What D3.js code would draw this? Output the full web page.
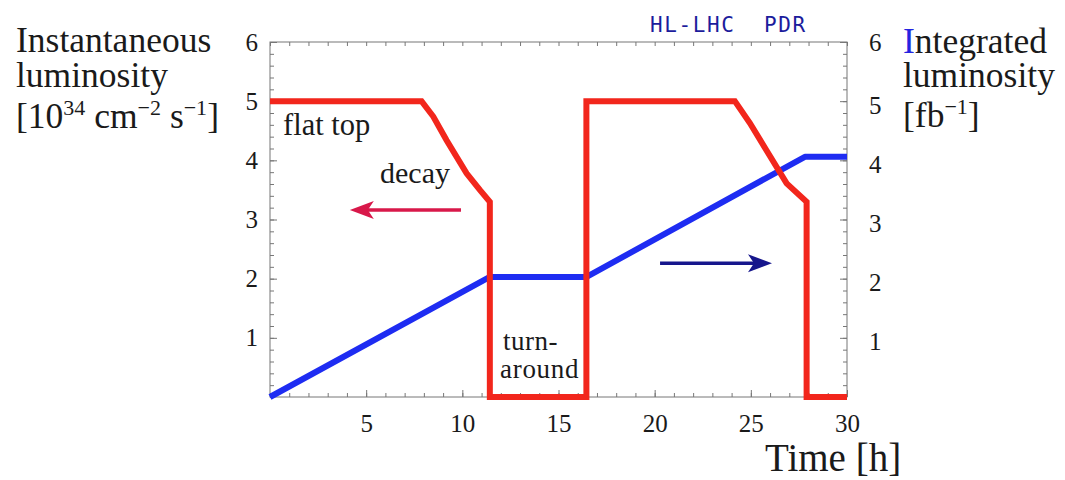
<!DOCTYPE html>
<html>
<head>
<meta charset="utf-8">
<script src="https://cdn.jsdelivr.net/npm/d3@7"></script>
<style>
  body { margin: 0; background: #fff; }
  text { font-family: "Liberation Serif", "DejaVu Serif", serif; fill: #1a1a1a; }
</style>
</head>
<body>
<div id="chart"></div>
<script>
// Instantaneous luminosity (red), time in hours
let instTime = [0, 7.88, 8.49, 9.18, 10.22, 10.91, 11.43, 11.43, 16.45, 16.45, 24.17, 24.95, 25.81, 26.86, 27.9, 27.9, 30];
let instLumi = [5, 5, 4.74, 4.34, 3.78, 3.5, 3.3, 0, 0, 5, 5, 4.63, 4.17, 3.61, 3.3, 0, 0];

// Integrated luminosity (blue)
let intTime = [0, 11.43, 16.46, 27.81, 30];
let intLumi = [0, 2.03, 2.03, 4.06, 4.06];

let xTicks = [5, 10, 15, 20, 25, 30];
let yTicks = [1, 2, 3, 4, 5, 6];

let width = 1065, height = 480;
let pLeft = 270, pRight = 847, pTop = 42, pBottom = 397;

let svg = d3.select("#chart").append("svg")
  .attr("width", width).attr("height", height);

let x = d3.scaleLinear().domain([0, 30]).range([pLeft, pRight]);
let yL = d3.scaleLinear().domain([0, 6]).range([pBottom, pTop]);
let yR = d3.scaleLinear().domain([0, 6]).range([pBottom, pTop]);

// frame
svg.append("rect")
  .attr("x", pLeft).attr("y", pTop)
  .attr("width", pRight - pLeft).attr("height", pBottom - pTop)
  .style("fill", "none").style("stroke", "#777").style("stroke-width", 1);

// minor + major ticks, pointing inward
function tickAxis(g, axis) {
  g.call(axis);
  g.attr("font-family", "Liberation Serif").attr("font-size", 25);
  g.select(".domain").remove();
  g.selectAll(".tick line").style("stroke", "#777");
  g.selectAll(".tick text")
    .style("font-family", "Liberation Serif")
    .style("font-size", "25px").style("fill", "#1a1a1a");
}

let minorX = d3.range(0, 31, 1);
let minorY = d3.range(0, 6.01, 0.2);

svg.append("g").attr("transform", "translate(0," + pBottom + ")")
  .call(tickAxis, d3.axisBottom(x).tickValues(minorX).tickSize(-4).tickFormat(""));
svg.append("g").attr("transform", "translate(0," + pTop + ")")
  .call(tickAxis, d3.axisTop(x).tickValues(minorX).tickSize(-4).tickFormat(""));
svg.append("g").attr("transform", "translate(" + pLeft + ",0)")
  .call(tickAxis, d3.axisLeft(yL).tickValues(minorY).tickSize(-4).tickFormat(""));
svg.append("g").attr("transform", "translate(" + pRight + ",0)")
  .call(tickAxis, d3.axisRight(yR).tickValues(minorY).tickSize(-4).tickFormat(""));

// labelled axes
let fmt = d3.format("d");
svg.append("g").attr("transform", "translate(0," + pBottom + ")")
  .call(tickAxis, d3.axisBottom(x).tickValues(xTicks).tickFormat(fmt).tickSizeInner(-7).tickSizeOuter(0).tickPadding(17));
svg.append("g").attr("transform", "translate(" + pLeft + ",0)")
  .call(tickAxis, d3.axisLeft(yL).tickValues(yTicks).tickFormat(fmt).tickSizeInner(-7).tickSizeOuter(0).tickPadding(12));
let rightAxis = svg.append("g").attr("transform", "translate(" + pRight + ",0)")
  .call(tickAxis, d3.axisRight(yR).tickValues(yTicks).tickFormat(fmt).tickSizeInner(-7).tickSizeOuter(0).tickPadding(22));
// right-hand numbers sit a little lower in the original
rightAxis.selectAll(".tick text")
  .filter(function(d) { return d < 6; })
  .attr("y", 4);

// curves
let instLine = d3.line()
  .x(function(d, i) { return x(instTime[i]); })
  .y(function(d) { return yL(d); });
let intLine = d3.line()
  .x(function(d, i) { return x(intTime[i]); })
  .y(function(d) { return yR(d); });

svg.append("path")
  .attr("d", intLine(intLumi))
  .style("fill", "none").style("stroke", "#1e2cf2")
  .style("stroke-width", 6).style("stroke-linejoin", "round");

svg.append("path")
  .attr("d", instLine(instLumi))
  .style("fill", "none").style("stroke", "#f2261c")
  .style("stroke-width", 6).style("stroke-linejoin", "miter").style("stroke-linecap", "butt");

// arrows: [from time, to time, level, colour]
let arrows = [
  [9.93, 4.15, 3.16, "#d8184a"],
  [20.28, 26.1, 2.26, "#16168c"]
];
arrows.forEach(function(a) {
  let x0 = x(a[0]), x1 = x(a[1]), yy = yL(a[2]);
  let dir = x1 > x0 ? 1 : -1;
  let len = 24, half = 9;
  svg.append("line")
    .attr("x1", x0).attr("y1", yy)
    .attr("x2", x1 - dir * len * 0.7).attr("y2", yy)
    .style("stroke", a[3]).style("stroke-width", 3.5);
  svg.append("path")
    .attr("d", "M" + x1 + "," + yy +
      "L" + (x1 - dir * len) + "," + (yy - half) +
      "L" + (x1 - dir * len * 0.75) + "," + yy +
      "L" + (x1 - dir * len) + "," + (yy + half) + "Z")
    .style("fill", a[3]);
});

// annotations
function note(t, tx, ty, size) {
  return svg.append("text").attr("x", tx).attr("y", ty)
    .style("font-size", size + "px").text(t);
}
note("flat top", 283, 135, 30.5);
note("decay", 380, 183, 30);
note("turn-", 503, 350, 27).style("letter-spacing", "0.5px");
note("around", 500, 378, 27).style("letter-spacing", "0.7px");

// left axis title
note("Instantaneous", 16, 52, 35.5);
note("luminosity", 16, 87, 35.5);
let lt = svg.append("text").attr("x", 16).attr("y", 128).style("font-size", "35.5px");
lt.append("tspan").text("[10");
lt.append("tspan").attr("dy", -13).style("font-size", "22px").text("34");
lt.append("tspan").attr("dy", 13).text(" cm");
lt.append("tspan").attr("dy", -13).style("font-size", "22px").text("\u22122");
lt.append("tspan").attr("dy", 13).text(" s");
lt.append("tspan").attr("dy", -13).style("font-size", "22px").text("\u22121");
lt.append("tspan").attr("dy", 13).text("]");

// right axis title
let rt = svg.append("text").attr("x", 903).attr("y", 53).style("font-size", "35.5px");
rt.append("tspan").style("fill", "#2424e0").text("I");
rt.append("tspan").text("ntegrated");
note("luminosity", 903, 87, 35.5);
let rb = svg.append("text").attr("x", 903).attr("y", 127).style("font-size", "35.5px");
rb.append("tspan").text("[fb");
rb.append("tspan").attr("dy", -13).style("font-size", "22px").text("\u22121");
rb.append("tspan").attr("dy", 13).text("]");

// x axis title
note("Time [h]", 765, 471, 39);

// watermark
svg.append("text").attr("x", 650).attr("y", 32)
  .style("font-family", "'DejaVu Sans Mono', monospace")
  .style("font-size", "21px").style("letter-spacing", "1.6px")
  .style("fill", "#1c1c9c").style("white-space", "pre")
  .text("HL-LHC  PDR");
</script>
</body>
</html>
